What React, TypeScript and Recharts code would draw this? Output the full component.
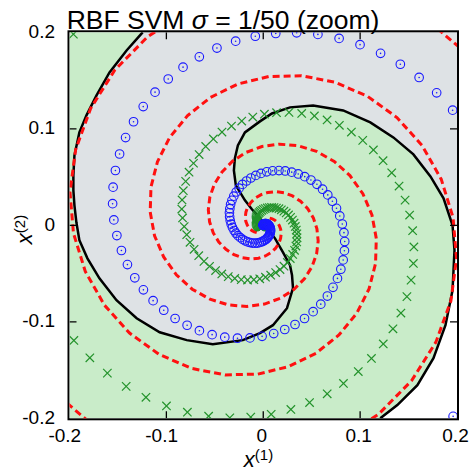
import React from 'react';
import { ScatterChart, Scatter, XAxis, YAxis, Customized, CartesianGrid } from 'recharts';

type Pt = [number, number];

// axis ticks
const TICKS = [-0.2, -0.1, 0, 0.1, 0.2];
const TICK_LABELS = ['-0.2', '-0.1', '0', '0.1', '0.2'];

// class +1 samples (blue circles)
const blueClass: Pt[] = [
  [0, 0], [0, 0], [0, 0], [0, 0.0001], [-0.0001, 0.0002], [0, 0.0003], [0, 0.0005], [0, 0.0006],
  [0.0001, 0.0008], [0.0003, 0.001], [0.0005, 0.0012], [0.0007, 0.0014], [0.001, 0.0015], [0.0014, 0.0016],
  [0.0018, 0.0017], [0.0023, 0.0017], [0.0028, 0.0017], [0.0033, 0.0016], [0.0039, 0.0014], [0.0045, 0.001],
  [0.0051, 0.0006], [0.0056, 0.0001], [0.0061, -0.0006], [0.0066, -0.0013], [0.007, -0.0022], [0.0073, -0.0032],
  [0.0075, -0.0043], [0.0075, -0.0054], [0.0075, -0.0067], [0.0072, -0.008], [0.0067, -0.0093], [0.0061, -0.0106],
  [0.0053, -0.0119], [0.0042, -0.0132], [0.003, -0.0144], [0.0015, -0.0155], [-0.0002, -0.0165], [-0.002, -0.0173],
  [-0.0041, -0.018], [-0.0063, -0.0184], [-0.0086, -0.0185], [-0.0111, -0.0184], [-0.0136, -0.0179], [-0.0162, -0.0172],
  [-0.0187, -0.0161], [-0.0213, -0.0146], [-0.0237, -0.0128], [-0.0261, -0.0107], [-0.0282, -0.0082], [-0.0301, -0.0054],
  [-0.0318, -0.0022], [-0.0331, 0.0012], [-0.0341, 0.0049], [-0.0347, 0.0088], [-0.0349, 0.013], [-0.0345, 0.0172],
  [-0.0337, 0.0215], [-0.0323, 0.0259], [-0.0304, 0.0302], [-0.0279, 0.0345], [-0.0249, 0.0385], [-0.0214, 0.0424],
  [-0.0173, 0.0459], [-0.0128, 0.049], [-0.0077, 0.0517], [-0.0023, 0.0538], [0.0036, 0.0554], [0.0097, 0.0564],
  [0.0162, 0.0567], [0.0227, 0.0563], [0.0294, 0.0551], [0.0361, 0.0532], [0.0428, 0.0504], [0.0492, 0.0469],
  [0.0554, 0.0425], [0.0612, 0.0374], [0.0666, 0.0315], [0.0714, 0.0249], [0.0756, 0.0176], [0.079, 0.0097],
  [0.0816, 0.0013], [0.0833, -0.0076], [0.0841, -0.0168], [0.0838, -0.0263], [0.0825, -0.0359], [0.0801, -0.0455],
  [0.0766, -0.055], [0.072, -0.0643], [0.0662, -0.0733], [0.0594, -0.0817], [0.0515, -0.0895], [0.0426, -0.0966],
  [0.0328, -0.1028], [0.0222, -0.108], [0.0108, -0.1122], [-0.0012, -0.1151], [-0.0137, -0.1167], [-0.0266, -0.117],
  [-0.0397, -0.1159], [-0.0528, -0.1133], [-0.0659, -0.1092], [-0.0786, -0.1036], [-0.091, -0.0966], [-0.1027, -0.088],
  [-0.1137, -0.0781], [-0.1237, -0.0669], [-0.1326, -0.0544], [-0.1402, -0.0407], [-0.1464, -0.0261], [-0.1511, -0.0106],
  [-0.1542, 0.0056], [-0.1555, 0.0224], [-0.155, 0.0395], [-0.1526, 0.0568], [-0.1483, 0.0739], [-0.1421, 0.0909],
  [-0.1339, 0.1073], [-0.1239, 0.123], [-0.1117, 0.138], [-0.0981, 0.1516], [-0.0828, 0.1639], [-0.066, 0.1746],
  [-0.0478, 0.1837], [-0.0285, 0.1908], [-0.0082, 0.1959], [0.0129, 0.1988], [0.0345, 0.1995], [0.0564, 0.1978],
  [0.0783, 0.1937], [0.0999, 0.1872], [0.1211, 0.1782], [0.1415, 0.1669], [0.1609, 0.1532], [0.179, 0.1373],
  [0.1955, 0.1193], [0.196, -0.198],
];

// class -1 samples (green crosses)
const greenClass: Pt[] = [
  [0, 0], [0, 0], [0, 0], [0, -0.0001], [0.0001, -0.0002], [0, -0.0003], [0, -0.0005], [0, -0.0006],
  [-0.0001, -0.0008], [-0.0003, -0.001], [-0.0005, -0.0012], [-0.0007, -0.0014], [-0.001, -0.0015], [-0.0014, -0.0016],
  [-0.0018, -0.0017], [-0.0023, -0.0017], [-0.0028, -0.0017], [-0.0033, -0.0016], [-0.0039, -0.0014], [-0.0045, -0.001],
  [-0.0051, -0.0006], [-0.0056, -0.0001], [-0.0061, 0.0006], [-0.0066, 0.0013], [-0.007, 0.0022], [-0.0073, 0.0032],
  [-0.0075, 0.0043], [-0.0075, 0.0054], [-0.0075, 0.0067], [-0.0072, 0.008], [-0.0067, 0.0093], [-0.0061, 0.0106],
  [-0.0053, 0.0119], [-0.0042, 0.0132], [-0.003, 0.0144], [-0.0015, 0.0155], [0.0002, 0.0165], [0.002, 0.0173],
  [0.0041, 0.018], [0.0063, 0.0184], [0.0086, 0.0185], [0.0111, 0.0184], [0.0136, 0.0179], [0.0162, 0.0172],
  [0.0187, 0.0161], [0.0213, 0.0146], [0.0237, 0.0128], [0.0261, 0.0107], [0.0282, 0.0082], [0.0301, 0.0054],
  [0.0318, 0.0022], [0.0331, -0.0012], [0.0341, -0.0049], [0.0347, -0.0088], [0.0349, -0.013], [0.0345, -0.0172],
  [0.0337, -0.0215], [0.0323, -0.0259], [0.0304, -0.0302], [0.0279, -0.0345], [0.0249, -0.0385], [0.0214, -0.0424],
  [0.0173, -0.0459], [0.0128, -0.049], [0.0077, -0.0517], [0.0023, -0.0538], [-0.0036, -0.0554], [-0.0097, -0.0564],
  [-0.0162, -0.0567], [-0.0227, -0.0563], [-0.0294, -0.0551], [-0.0361, -0.0532], [-0.0428, -0.0504], [-0.0492, -0.0469],
  [-0.0554, -0.0425], [-0.0612, -0.0374], [-0.0666, -0.0315], [-0.0714, -0.0249], [-0.0756, -0.0176], [-0.079, -0.0097],
  [-0.0816, -0.0013], [-0.0833, 0.0076], [-0.0841, 0.0168], [-0.0838, 0.0263], [-0.0825, 0.0359], [-0.0801, 0.0455],
  [-0.0766, 0.055], [-0.072, 0.0643], [-0.0662, 0.0733], [-0.0594, 0.0817], [-0.0515, 0.0895], [-0.0426, 0.0966],
  [-0.0328, 0.1028], [-0.0222, 0.108], [-0.0108, 0.1122], [0.0012, 0.1151], [0.0137, 0.1167], [0.0266, 0.117],
  [0.0397, 0.1159], [0.0528, 0.1133], [0.0659, 0.1092], [0.0786, 0.1036], [0.091, 0.0966], [0.1027, 0.088],
  [0.1137, 0.0781], [0.1237, 0.0669], [0.1326, 0.0544], [0.1402, 0.0407], [0.1464, 0.0261], [0.1511, 0.0106],
  [0.1542, -0.0056], [0.1555, -0.0224], [0.155, -0.0395], [0.1526, -0.0568], [0.1483, -0.0739], [0.1421, -0.0909],
  [0.1339, -0.1073], [0.1239, -0.123], [0.1117, -0.138], [0.0981, -0.1516], [0.0828, -0.1639], [0.066, -0.1746],
  [0.0478, -0.1837], [0.0285, -0.1908], [0.0082, -0.1959], [-0.0129, -0.1988], [-0.0345, -0.1995], [-0.0564, -0.1978],
  [-0.0783, -0.1937], [-0.0999, -0.1872], [-0.1211, -0.1782], [-0.1415, -0.1669], [-0.1609, -0.1532], [-0.179, -0.1373],
  [-0.1955, -0.1193], [-0.196, 0.198],
];

// ideal class boundary, first arm (red dashed)
const trueBoundaryA: Pt[] = [
  [0.0067, 0.0075], [0.0093, 0.0067],
  [0.0119, 0.0053], [0.0144, 0.003], [0.0165, -0.0002], [0.018, -0.0041], [0.0185, -0.0086], [0.0179, -0.0136],
  [0.0161, -0.0187], [0.0128, -0.0237], [0.0082, -0.0282], [0.0022, -0.0318], [-0.0049, -0.0341], [-0.013, -0.0349],
  [-0.0215, -0.0337], [-0.0302, -0.0304], [-0.0385, -0.0249], [-0.0459, -0.0173], [-0.0517, -0.0077], [-0.0554, 0.0036],
  [-0.0567, 0.0162], [-0.0551, 0.0294], [-0.0504, 0.0428], [-0.0425, 0.0554], [-0.0315, 0.0666], [-0.0176, 0.0756],
  [-0.0013, 0.0816], [0.0168, 0.0841], [0.0359, 0.0825], [0.055, 0.0766], [0.0733, 0.0662], [0.0895, 0.0515],
  [0.1028, 0.0328], [0.1122, 0.0108], [0.1167, -0.0137], [0.1159, -0.0397], [0.1092, -0.0659], [0.0966, -0.091],
  [0.0781, -0.1137], [0.0544, -0.1326], [0.0261, -0.1464], [-0.0056, -0.1542], [-0.0395, -0.155], [-0.0739, -0.1483],
  [-0.1073, -0.1339], [-0.138, -0.1117], [-0.1639, -0.0828], [-0.1837, -0.0478], [-0.1959, -0.0082], [-0.1995, 0.0345],
  [-0.1937, 0.0783], [-0.1782, 0.1211], [-0.1532, 0.1609], [-0.1193, 0.1955], [-0.0776, 0.2227], [-0.0296, 0.241],
  [0.0226, 0.2489], [0.0769, 0.2454], [0.1306, 0.2299], [0.1812, 0.2026], [0.226, 0.1642], [0.2625, 0.1158],
];

// ideal class boundary, second arm (red dashed)
const trueBoundaryB: Pt[] = [
  [-0.0067, -0.0075], [-0.0093, -0.0067],
  [-0.0119, -0.0053], [-0.0144, -0.003], [-0.0165, 0.0002], [-0.018, 0.0041], [-0.0185, 0.0086], [-0.0179, 0.0136],
  [-0.0161, 0.0187], [-0.0128, 0.0237], [-0.0082, 0.0282], [-0.0022, 0.0318], [0.0049, 0.0341], [0.013, 0.0349],
  [0.0215, 0.0337], [0.0302, 0.0304], [0.0385, 0.0249], [0.0459, 0.0173], [0.0517, 0.0077], [0.0554, -0.0036],
  [0.0567, -0.0162], [0.0551, -0.0294], [0.0504, -0.0428], [0.0425, -0.0554], [0.0315, -0.0666], [0.0176, -0.0756],
  [0.0013, -0.0816], [-0.0168, -0.0841], [-0.0359, -0.0825], [-0.055, -0.0766], [-0.0733, -0.0662], [-0.0895, -0.0515],
  [-0.1028, -0.0328], [-0.1122, -0.0108], [-0.1167, 0.0137], [-0.1159, 0.0397], [-0.1092, 0.0659], [-0.0966, 0.091],
  [-0.0781, 0.1137], [-0.0544, 0.1326], [-0.0261, 0.1464], [0.0056, 0.1542], [0.0395, 0.155], [0.0739, 0.1483],
  [0.1073, 0.1339], [0.138, 0.1117], [0.1639, 0.0828], [0.1837, 0.0478], [0.1959, 0.0082], [0.1995, -0.0345],
  [0.1937, -0.0783], [0.1782, -0.1211], [0.1532, -0.1609], [0.1193, -0.1955], [0.0776, -0.2227], [0.0296, -0.241],
  [-0.0226, -0.2489], [-0.0769, -0.2454], [-0.1306, -0.2299], [-0.1812, -0.2026], [-0.226, -0.1642], [-0.2625, -0.1158],
];

// SVM decision boundary (black), from the top edge to the bottom edge
const svmBoundary: Pt[] = [
  [-0.1245, 0.2], [-0.1411, 0.1812], [-0.1587, 0.1584], [-0.1721, 0.1346], [-0.1825, 0.1139], [-0.1898, 0.0963],
  [-0.1949, 0.0725], [-0.196, 0.0518], [-0.196, 0.0362], [-0.1949, 0.0207], [-0.1929, 0.0031], [-0.1898, -0.0155],
  [-0.1815, -0.0342], [-0.1691, -0.0549], [-0.1515, -0.0776], [-0.1307, -0.0963], [-0.1069, -0.1108], [-0.079, -0.119],
  [-0.0521, -0.1232], [-0.021, -0.119], [-0.0034, -0.1118], [0.01, -0.1035], [0.0245, -0.0859], [0.0307, -0.0652],
  [0.0297, -0.0518], [0.0276, -0.0414], [0.0204, -0.028], [0.0121, -0.0135], [0.0049, -0.0041], [-0.0034, 0.0072],
  [-0.0117, 0.0166], [-0.0189, 0.0259], [-0.0283, 0.0414], [-0.0303, 0.0569], [-0.0293, 0.0694], [-0.0262, 0.0828],
  [-0.0189, 0.0963], [-0.0034, 0.1077], [0.009, 0.1159], [0.0276, 0.1222], [0.0515, 0.1242], [0.0825, 0.119],
  [0.1105, 0.1066], [0.1343, 0.0911], [0.155, 0.0735], [0.1726, 0.0507], [0.1861, 0.028], [0.1954, 0],
  [0.1974, -0.0259], [0.1954, -0.0673], [0.1881, -0.1035], [0.1757, -0.1377], [0.1591, -0.1656], [0.1384, -0.1863],
  [0.1208, -0.2],
];

const GRAY = '#dee2e5';
const LIGHT_GREEN = '#c9ecc9';
const BLUE = '#1a1aff';
const GREEN = '#22922a';
const RED = '#ff1010';
const FONT = "'Liberation Sans', Arial, sans-serif";
const TICK_LEN = 7;

// chart layout
const SIZE = 472;
const MARGIN = { top: 32.3, right: 15, bottom: 23.7, left: 9.5 };
const Y_AXIS_W = 60;
const X_AXIS_H = 30;
const PLOT_LEFT = MARGIN.left + Y_AXIS_W;
const PLOT_TOP = MARGIN.top;
const PLOT_W = SIZE - PLOT_LEFT - MARGIN.right;
const PLOT_H = SIZE - MARGIN.top - MARGIN.bottom - X_AXIS_H;
const PLOT_RIGHT = PLOT_LEFT + PLOT_W;
const PLOT_BOTTOM = PLOT_TOP + PLOT_H;

const lo = TICKS[0];
const hi = TICKS[TICKS.length - 1];

const toXY = (pts: Pt[]) => pts.map(([x, y]) => ({ x, y }));

// regions: green side of the boundary, and the uncoloured lower-right corner
const greenRegion: Pt[] = [[lo, hi], ...svmBoundary, [lo, lo]];
const blankRegion: Pt[] = [
  ...svmBoundary.filter(([x, y]) => y <= 0 && x > 0.1),
  [hi, lo],
  [hi, 0],
];

// anchor points of the inward tick marks on the four sides of the box
const innerTicks = TICKS.slice(1, -1);
const tickAnchors = [
  ...innerTicks.map((t) => ({ x: t, y: lo })),
  ...innerTicks.map((t) => ({ x: t, y: hi })),
  ...innerTicks.map((t) => ({ x: lo, y: t })),
  ...innerTicks.map((t) => ({ x: hi, y: t })),
];

const NoMarker = () => <g />;

// a tick mark pointing into the plot from whichever edge it sits on
const TickMark = (p: any) => {
  const { cx, cy } = p;
  let dx = 0;
  let dy = 0;
  if (Math.abs(cy - PLOT_BOTTOM) < 1.5) dy = -TICK_LEN;
  else if (Math.abs(cy - PLOT_TOP) < 1.5) dy = TICK_LEN;
  else if (Math.abs(cx - PLOT_LEFT) < 1.5) dx = TICK_LEN;
  else if (Math.abs(cx - PLOT_RIGHT) < 1.5) dx = -TICK_LEN;
  return <line x1={cx} y1={cy} x2={cx + dx} y2={cy + dy} stroke="#000" strokeWidth={1.3} />;
};

const BlueMarker = (p: any) => (
  <g>
    <circle cx={p.cx} cy={p.cy} r={4.3} fill="none" stroke={BLUE} strokeWidth={1.1} />
    <circle cx={p.cx} cy={p.cy} r={0.8} fill={BLUE} />
  </g>
);

const GreenMarker = (p: any) => {
  const s = 4.2;
  return (
    <g stroke={GREEN} strokeWidth={1.2}>
      <line x1={p.cx - s} y1={p.cy - s} x2={p.cx + s} y2={p.cy + s} />
      <line x1={p.cx - s} y1={p.cy + s} x2={p.cx + s} y2={p.cy - s} />
    </g>
  );
};

const XTick = (props: any) => {
  const { x, y, payload } = props;
  const v = payload.value as number;
  const label = TICK_LABELS[TICKS.indexOf(v)];
  return (
    <text
      x={x - 1.5 - (v < 0 ? 3.2 : 0)}
      y={y + 23.7}
      textAnchor="middle"
      fontSize={19}
      fontFamily={FONT}
      fill="#000"
    >
      {label}
    </text>
  );
};

const YTick = (props: any) => {
  const { x, y, payload } = props;
  const v = payload.value as number;
  const label = TICK_LABELS[TICKS.indexOf(v)];
  return (
    <text x={x - 14.5} y={y + 5.5} textAnchor="end" fontSize={19} fontFamily={FONT} fill="#000">
      {label}
    </text>
  );
};

// title, axis labels and the box round the plot area
const Decorations = () => (
  <g>
    <rect
      x={PLOT_LEFT - 1}
      y={PLOT_TOP - 1}
      width={PLOT_W + 2}
      height={PLOT_H + 2}
      fill="none"
      stroke="#000"
      strokeWidth={2}
    />
    <g fontFamily={FONT} fill="#000">
      <text x={223} y={28.5} textAnchor="middle" fontSize={26.5}>
        RBF SVM <tspan fontStyle="italic">σ</tspan> = 1/50 (zoom)
      </text>
      <text x={258.5} y={467} textAnchor="middle" fontSize={22}>
        <tspan fontStyle="italic">x</tspan>
        <tspan fontSize={15} dy={-7}>(1)</tspan>
      </text>
      <text x={32} y={229.5} textAnchor="middle" fontSize={22} transform="rotate(-90 32 229.5)">
        <tspan fontStyle="italic">x</tspan>
        <tspan fontSize={15} dy={-7}>(2)</tspan>
      </text>
    </g>
  </g>
);

export default function App() {
  return (
    <div style={{ position: 'absolute', left: 0, top: 0, width: SIZE, height: SIZE }}>
      <ScatterChart width={SIZE} height={SIZE} margin={MARGIN}>
        <CartesianGrid fill={GRAY} stroke="none" horizontal={false} vertical={false} />
        <Scatter
          data={toXY(greenRegion)}
          shape={NoMarker}
          line={{ fill: LIGHT_GREEN, stroke: 'none' }}
          lineType="joint"
          isAnimationActive={false}
        />
        <Scatter
          data={toXY(blankRegion)}
          shape={NoMarker}
          line={{ fill: '#ffffff', stroke: 'none' }}
          lineType="joint"
          isAnimationActive={false}
        />
        <Scatter
          data={toXY(svmBoundary)}
          shape={NoMarker}
          line={{ stroke: '#000', strokeWidth: 2.5, fill: 'none' }}
          lineType="joint"
          isAnimationActive={false}
        />
        <Scatter
          data={toXY(trueBoundaryA)}
          shape={NoMarker}
          line={{ stroke: RED, strokeWidth: 3, strokeDasharray: '7 4', fill: 'none' }}
          lineType="joint"
          isAnimationActive={false}
        />
        <Scatter
          data={toXY(trueBoundaryB)}
          shape={NoMarker}
          line={{ stroke: RED, strokeWidth: 3, strokeDasharray: '7 4', fill: 'none' }}
          lineType="joint"
          isAnimationActive={false}
        />
        <Scatter data={toXY(greenClass)} shape={GreenMarker} isAnimationActive={false} />
        <Scatter data={toXY(blueClass)} shape={BlueMarker} isAnimationActive={false} />
        <Scatter data={tickAnchors} shape={TickMark} isAnimationActive={false} />
        <XAxis
          type="number"
          dataKey="x"
          domain={[lo, hi]}
          ticks={TICKS}
          interval={0}
          allowDataOverflow
          height={X_AXIS_H}
          axisLine={false}
          tickLine={false}
          tickSize={0}
          tickMargin={0}
          tick={<XTick />}
        />
        <YAxis
          type="number"
          dataKey="y"
          domain={[lo, hi]}
          ticks={TICKS}
          interval={0}
          allowDataOverflow
          width={Y_AXIS_W}
          axisLine={false}
          tickLine={false}
          tickSize={0}
          tickMargin={0}
          tick={<YTick />}
        />
        <Customized component={<Decorations />} />
      </ScatterChart>
    </div>
  );
}
